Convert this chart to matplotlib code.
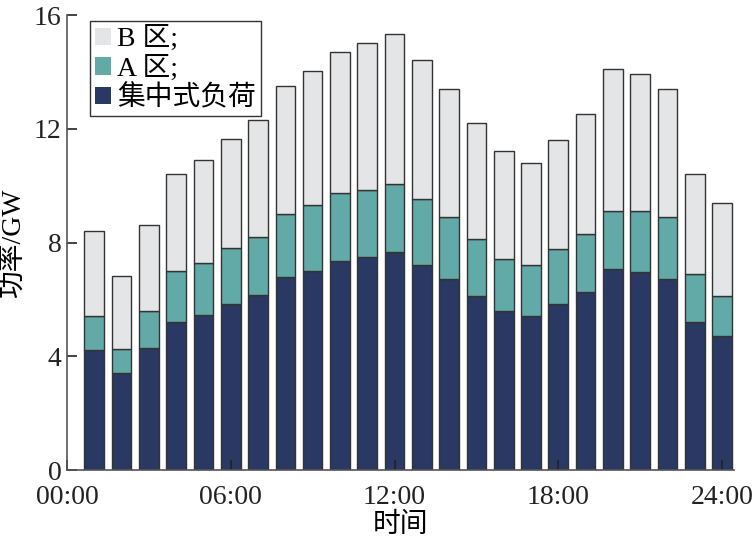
import numpy as np
import matplotlib
matplotlib.use("Agg")
import matplotlib.pyplot as plt

# 每小时负荷 (GW)，读图估计
hours = np.arange(1, 25)
load_central = [4.22, 3.42, 4.31, 5.21, 5.46, 5.83, 6.16, 6.78, 7.01, 7.36, 7.51, 7.67,
                7.21, 6.72, 6.12, 5.60, 5.41, 5.83, 6.26, 7.07, 6.96, 6.72, 5.21, 4.72]
top_a = [5.41, 4.25, 5.60, 7.02, 7.30, 7.81, 8.20, 9.01, 9.31, 9.76, 9.86, 10.07,
         9.55, 8.91, 8.12, 7.41, 7.20, 7.76, 8.30, 9.11, 9.11, 8.91, 6.89, 6.12]
top_b = [8.41, 6.82, 8.61, 10.43, 10.90, 11.63, 12.33, 13.51, 14.03, 14.71, 15.03, 15.33,
         14.42, 13.42, 12.21, 11.22, 10.81, 11.60, 12.52, 14.11, 13.92, 13.42, 10.42, 9.41]
load_a = [t - c for t, c in zip(top_a, load_central)]
load_b = [t - a for t, a in zip(top_b, top_a)]

xticks = [0, 6, 12, 18, 24]
xticklabels = ["00:00", "06:00", "12:00", "18:00", "24:00"]
yticks = [0, 4, 8, 12, 16]

fonts = ["Liberation Serif", "Noto Sans CJK SC", "DejaVu Sans"]
plt.rcParams["font.family"] = fonts

fig = plt.figure(figsize=(7.55, 5.41), dpi=100)
ax = fig.add_axes([0.0887, 0.131, 0.884, 0.841])

w = 0.72
edge = dict(edgecolor="#333333", linewidth=1.0)
ax.bar(hours, load_central, width=w, color="#2a3963", label="集中式负荷", **edge)
ax.bar(hours, load_a, width=w, bottom=load_central, color="#62aaa8", label="A 区;", **edge)
ax.bar(hours, load_b, width=w, bottom=top_a, color="#e4e5e7", label="B 区;", **edge)

ax.set_xlim(0, 24.45)
ax.set_ylim(0, 16)
ax.set_xticks(xticks)
ax.set_xticklabels(xticklabels)
ax.set_yticks(yticks)
ax.tick_params(direction="in", length=7, width=1.2, labelsize=20, colors="#222222")
ax.tick_params(axis="x", pad=11)
ax.tick_params(axis="y", pad=4)
for s in ["top", "right"]:
    ax.spines[s].set_visible(False)
for s in ["left", "bottom"]:
    ax.spines[s].set_color("#555555")
    ax.spines[s].set_linewidth(1.2)

ax.set_xlabel("时间", fontsize=20, labelpad=2)
ax.set_ylabel("功率/GW", fontsize=20, labelpad=6)

handles, labels = ax.get_legend_handles_labels()
leg = ax.legend(handles[::-1], labels[::-1], loc="upper left", bbox_to_anchor=(0.03, 0.993),
                fontsize=20, frameon=True, fancybox=False, edgecolor="black",
                handlelength=0.6, handleheight=0.6, handletextpad=0.2,
                labelspacing=0.12, borderpad=0.18, borderaxespad=0.1)
leg.get_frame().set_linewidth(1.0)
for p in leg.get_patches():
    p.set_edgecolor("none")

fig.savefig("out.png", dpi=100)
